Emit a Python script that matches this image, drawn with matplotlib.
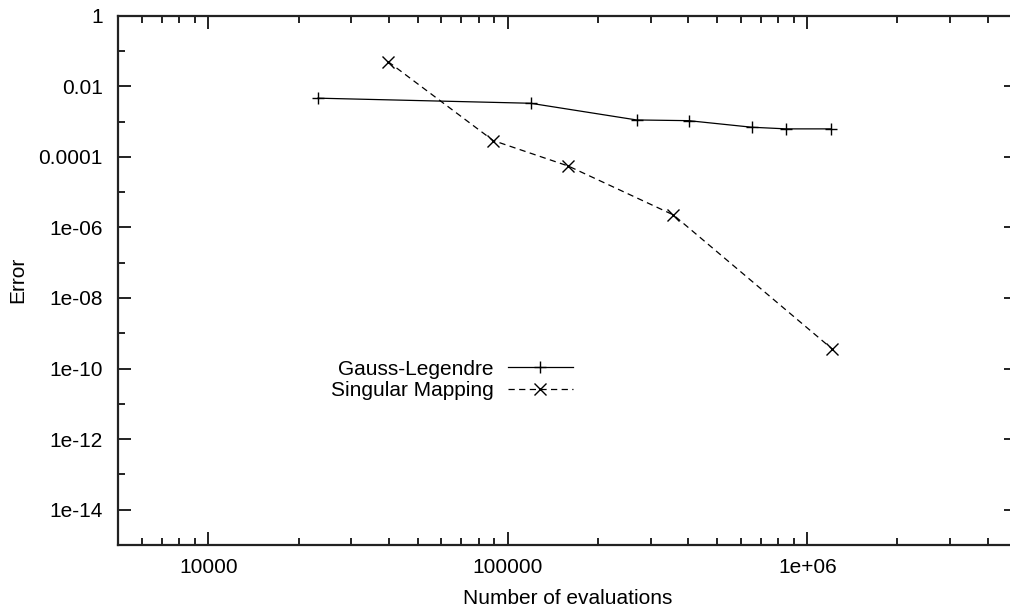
import numpy as np
import matplotlib
matplotlib.use("Agg")
import matplotlib.pyplot as plt
from matplotlib.ticker import FixedLocator, FuncFormatter, LogLocator, NullFormatter

plt.rcParams['font.family'] = ['Liberation Sans', 'DejaVu Sans']

# Gauss-Legendre quadrature: evaluations vs error
gl_evals = [23200, 119000, 269000, 401000, 653000, 851000, 1200000]
gl_error = [4.6e-3, 3.3e-3, 1.11e-3, 1.06e-3, 6.9e-4, 6.2e-4, 6.2e-4]

# Singular mapping: evaluations vs error
sm_evals = [39800, 89300, 159000, 357000, 1210000]
sm_error = [5.0e-2, 2.9e-4, 5.5e-5, 2.26e-6, 3.6e-10]

x_ticks = [1e4, 1e5, 1e6]
y_ticks = [1, 1e-2, 1e-4, 1e-6, 1e-8, 1e-10, 1e-12, 1e-14]
y_minor = [1e-1, 1e-3, 1e-5, 1e-7, 1e-9, 1e-11, 1e-13, 1e-15]

fig = plt.figure(figsize=(10.1, 6.08), dpi=100)
# right edge runs a little past the image, as in the cropped original
ax = fig.add_axes([0.1171, 0.1036, 0.8895, 0.8706])

ax.plot(gl_evals, gl_error, color='black', lw=0.9, marker='+', ms=9, mew=1.0,
        label='Gauss-Legendre')
ax.plot(sm_evals, sm_error, color='black', lw=0.9, ls=(0, (5, 3.5)), marker='x',
        ms=9, mew=1.0, label='Singular Mapping')

ax.set_xscale('log')
ax.set_yscale('log')
ax.set_xlim(5000, 5e6)
ax.set_ylim(1e-15, 1)

ax.xaxis.set_major_locator(FixedLocator(x_ticks))
ax.xaxis.set_minor_locator(LogLocator(base=10, subs=np.arange(2, 10)))
ax.yaxis.set_major_locator(FixedLocator(y_ticks))
ax.yaxis.set_minor_locator(FixedLocator(y_minor))
gfmt = FuncFormatter(lambda v, pos: '%g' % v)
ax.xaxis.set_major_formatter(gfmt)
ax.yaxis.set_major_formatter(gfmt)
ax.xaxis.set_minor_formatter(NullFormatter())
ax.yaxis.set_minor_formatter(NullFormatter())

ax.tick_params(which='both', direction='in', top=True, right=True,
               width=1.4, labelsize=15, color='#222222')
ax.tick_params(which='major', length=9.5)
ax.tick_params(which='minor', length=5)
ax.tick_params(axis='x', pad=9)
ax.tick_params(axis='y', pad=11)
for s in ax.spines.values():
    s.set_linewidth(1.6)
    s.set_color('#222222')

ax.set_xlabel('Number of evaluations', fontsize=15, labelpad=9)
ax.set_ylabel('Error', fontsize=15, labelpad=8)

ax.legend(loc='center right', bbox_to_anchor=(0.567, 0.375),
          bbox_transform=fig.transFigure, frameon=False, fontsize=15,
          markerfirst=False, handlelength=3.1, handletextpad=0.7,
          labelspacing=0.12, borderpad=0, borderaxespad=0)

fig.savefig('out.png', dpi=100)
